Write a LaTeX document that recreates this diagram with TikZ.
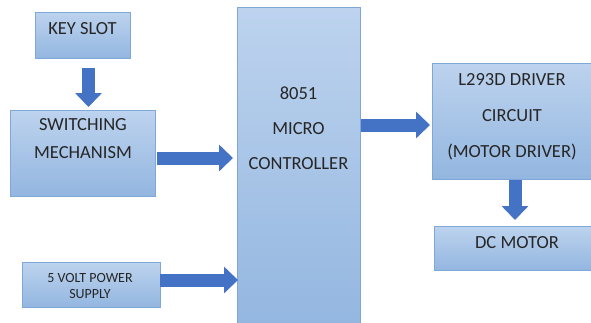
\documentclass[tikz,border=0pt]{standalone}
\usepackage{fontspec}
\setmainfont{Carlito}
\usetikzlibrary{arrows.meta,calc}
\definecolor{boxtop}{HTML}{BDD3EE}
\definecolor{boxbot}{HTML}{93B6E0}
\definecolor{boxline}{HTML}{7FA7D8}
\definecolor{arrowblue}{HTML}{4472C4}
\definecolor{txt}{HTML}{262626}
\tikzset{
  blockbox/.style={draw=boxline, line width=0.8pt, top color=boxtop, bottom color=boxbot, inner sep=0pt, outer sep=0pt},
  lbl/.style={text=txt, font=\fontsize{18.5}{20}\selectfont, inner sep=0pt},
  smalllbl/.style={text=txt, font=\fontsize{14}{15}\selectfont, inner sep=0pt},
  bigarrow/.style={draw=arrowblue, line width=13pt, -{Triangle[length=14pt,width=26pt]}}
}
\begin{document}
\begin{tikzpicture}[x=1pt,y=-1pt]
\clip (0,0) rectangle (591,322);
\fill[white] (0,0) rectangle (591,322);
% boxes
\node[blockbox, minimum width=95pt, minimum height=46pt] (key) at (82.5,35) {};
\node[blockbox, minimum width=145pt, minimum height=86pt] (sw) at (82.5,153) {};
\node[blockbox, minimum width=138pt, minimum height=45pt] (ps) at (91,284.5) {};
\node[blockbox, minimum width=123pt, minimum height=323pt] (mc) at (298.5,168.5) {};
\node[blockbox, minimum width=168pt, minimum height=116pt] (drv) at (516,121) {};
\node[blockbox, minimum width=166pt, minimum height=44pt] (dcm) at (517,248) {};
% texts
\node[lbl] (keyt) at (82.5,28.5) {KEY SLOT};
\node[lbl] (swt1) at (83,125) {SWITCHING};
\node[lbl] (swt2) at (83,153) {MECHANISM};
\node[smalllbl] (pst1) at (90,277.5) {5 VOLT POWER};
\node[smalllbl] (pst2) at (90,294) {SUPPLY};
\node[lbl] (mct1) at (298.5,93.5) {8051};
\node[lbl] (mct2) at (298.5,128.5) {MICRO};
\node[lbl] (mct3) at (298.5,163.5) {CONTROLLER};
\node[lbl] (drvt1) at (512,80) {L293D DRIVER};
\node[lbl] (drvt2) at (512,116) {CIRCUIT};
\node[lbl] (drvt3) at (512,152) {(MOTOR DRIVER)};
\node[lbl] (dcmt) at (517,242.5) {DC MOTOR};
% arrows
\draw[bigarrow] ($(key.south)+(6,10)$) -- ($(sw.north)+(6,-3)$);
\draw[bigarrow] ($(sw.east)+(2,5)$) -- ($(mc.west |- 0,158)+(-4,0)$);
\draw[bigarrow] ($(ps.east)+(0,-4.5)$) -- ($(mc.west |- 0,280)+(1,0)$);
\draw[bigarrow] ($(mc.east |- 0,125)+(1,0)$) -- ($(drv.west |- 0,125)+(-2,0)$);
\draw[bigarrow] ($(drv.south)+(-1,1)$) -- ($(dcm.north)+(-2,-6)$);
\end{tikzpicture}
\end{document}
